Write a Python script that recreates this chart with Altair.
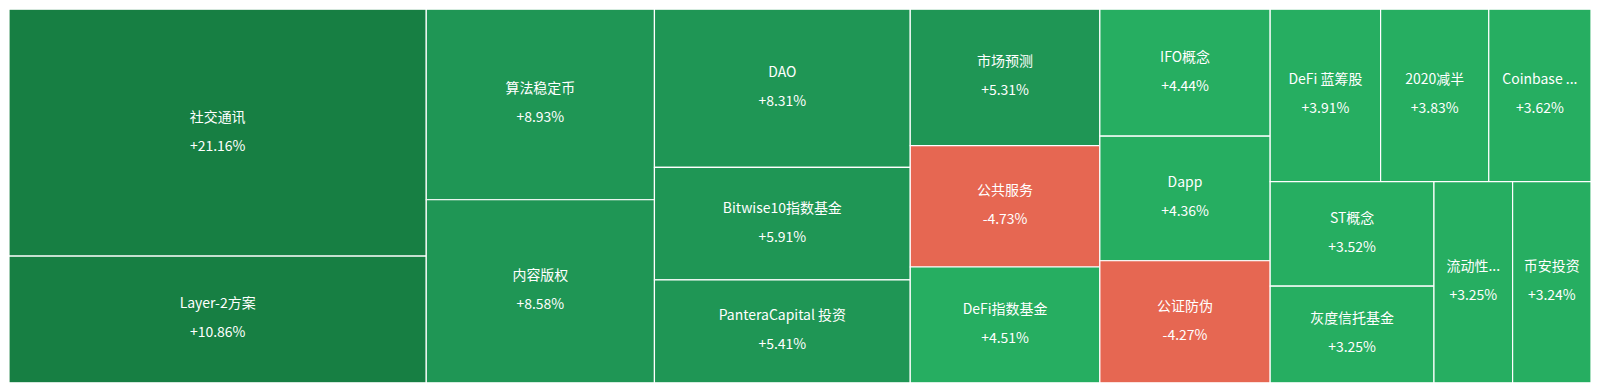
import math
import altair as alt
import pandas as pd

# ---- data ----
names = ["社交通讯", "Layer-2方案", "算法稳定币", "内容版权", "DAO",
         "Bitwise10指数基金", "PanteraCapital 投资", "市场预测", "公共服务",
         "DeFi指数基金", "IFO概念", "Dapp", "公证防伪", "DeFi 蓝筹股",
         "2020减半", "Coinbase ...", "ST概念", "灰度信托基金", "流动性...", "币安投资"]
changes = [21.16, 10.86, 8.93, 8.58, 8.31, 5.91, 5.41, 5.31, -4.73, 4.51,
           4.44, 4.36, -4.27, 3.91, 3.83, 3.62, 3.52, 3.25, 3.25, 3.24]

level_domain = ["strong", "mid", "up", "down"]
level_colors = ["#177f43", "#1f9655", "#26ae61", "#e66752"]

# layout space of the treemap (the reference canvas)
W, H = 1600, 390


def level_of(c):
    if c < 0:
        return "down"
    if c >= 10:
        return "strong"
    if c >= 5:
        return "mid"
    return "up"


def squarify(values, width, height, ratio=0.5 * (1 + math.sqrt(5))):
    """ECharts-style squarified treemap layout."""
    total = sum(values)
    order = sorted(range(len(values)), key=lambda i: -values[i])
    areas = {i: values[i] / total * width * height for i in order}
    rect = {"x": 0.0, "y": 0.0, "w": float(width), "h": float(height)}
    out = {}

    def worst(row, L):
        s = sum(areas[i] for i in row)
        if s == 0:
            return math.inf
        amax = max(areas[i] for i in row)
        amin = min(areas[i] for i in row)
        f = L * L * ratio
        return max(f * amax / (s * s), (s * s) / (f * amin))

    def position(row, L, flush):
        horizontal = (L == rect["w"])
        s = sum(areas[i] for i in row)
        other = s / L if L else 0
        lim = rect["h"] if horizontal else rect["w"]
        if flush or other > lim:
            other = lim
        if horizontal:
            last = rect["x"]
            for k, i in enumerate(row):
                step = areas[i] / other if other else 0
                remain = rect["x"] + rect["w"] - last
                mod = remain if (k == len(row) - 1 or remain < step) else step
                out[i] = (last, rect["y"], last + mod, rect["y"] + other)
                last += mod
            rect["y"] += other
            rect["h"] -= other
        else:
            last = rect["y"]
            for k, i in enumerate(row):
                step = areas[i] / other if other else 0
                remain = rect["y"] + rect["h"] - last
                mod = remain if (k == len(row) - 1 or remain < step) else step
                out[i] = (rect["x"], last, rect["x"] + other, last + mod)
                last += mod
            rect["x"] += other
            rect["w"] -= other

    L = min(rect["w"], rect["h"])
    best = math.inf
    row = []
    i = 0
    while i < len(order):
        row.append(order[i])
        score = worst(row, L)
        if score <= best:
            i += 1
            best = score
        else:
            row.pop()
            position(row, L, False)
            L = min(rect["w"], rect["h"])
            row = []
            best = math.inf
    if row:
        position(row, L, True)
    return out


layout = squarify([abs(c) for c in changes], W, H)

rows = []
for i, (n, c) in enumerate(zip(names, changes)):
    x0, y0, x1, y1 = layout[i]
    rows.append({
        "name": n,
        "pct": f"{c:+.2f}%",
        "level": level_of(c),
        "x0": x0, "x1": x1, "y0": y0, "y1": y1,
        "cx": (x0 + x1) / 2, "cy": (y0 + y1) / 2,
    })
df = pd.DataFrame(rows)

xs = alt.Scale(domain=[0, W], nice=False, zero=False)
ys = alt.Scale(domain=[0, H], nice=False, zero=False, reverse=True)

base = alt.Chart(df)

tiles = base.mark_rect(stroke="white", strokeWidth=1.2).encode(
    x=alt.X("x0:Q", scale=xs, axis=None),
    x2="x1:Q",
    y=alt.Y("y0:Q", scale=ys, axis=None),
    y2="y1:Q",
    color=alt.Color("level:N", scale=alt.Scale(domain=level_domain, range=level_colors), legend=None),
)

font = "Noto Sans CJK SC"
name_text = base.mark_text(dy=-15, fontSize=14, color="white", font=font).encode(
    x=alt.X("cx:Q", scale=xs, axis=None),
    y=alt.Y("cy:Q", scale=ys, axis=None),
    text="name:N",
)
pct_text = base.mark_text(dy=14, fontSize=14, color="white", font=font).encode(
    x=alt.X("cx:Q", scale=xs, axis=None),
    y=alt.Y("cy:Q", scale=ys, axis=None),
    text="pct:N",
)

chart = (tiles + name_text + pct_text).properties(
    width=1584, height=374, padding=0
).configure_view(stroke=None)

chart.save("out.html", embed_options={"renderer": "svg", "actions": False})
